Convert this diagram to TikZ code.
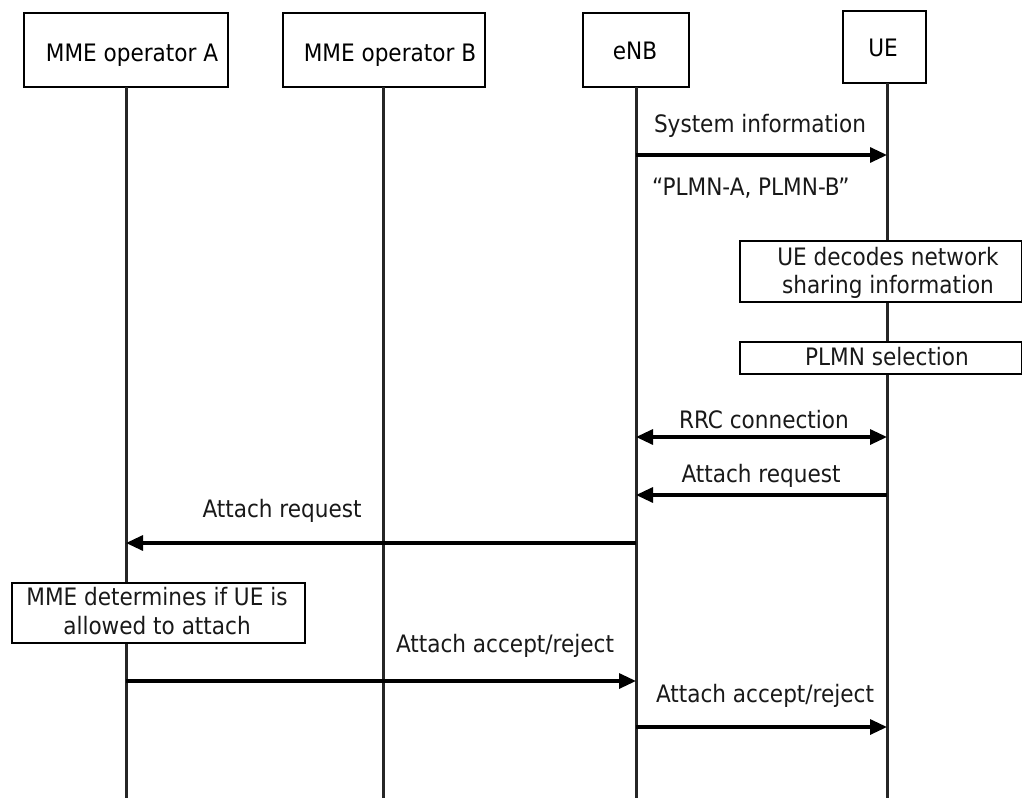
\documentclass[tikz,border=0pt]{standalone}
\usepackage{fontspec}
\setmainfont{DejaVu Sans Condensed}
\usetikzlibrary{arrows.meta}
\begin{document}
\begin{tikzpicture}[x=1pt,y=-1pt,
  font=\fontsize{24}{28}\selectfont,
  head/.style={draw, line width=2.8pt, fill=white, inner sep=0pt},
  note/.style={draw, line width=2.4pt, fill=white, inner sep=0pt, align=center},
  life/.style={line width=3pt, black!85},
  msg/.style={line width=3.2pt, -{Triangle[length=17pt,width=15pt]}},
  dmsg/.style={line width=3.2pt, {Triangle[length=17pt,width=15pt]}-{Triangle[length=17pt,width=15pt]}},
  lbl/.style={anchor=base, inner sep=0pt, text=black!90}]
\useasboundingbox[fill=white] (0,0) rectangle (1022,798);

% lifeline ends
\coordinate (aEnd) at (126,798);
\coordinate (bEnd) at (383,798);
\coordinate (eEnd) at (636,798);
\coordinate (uEnd) at (887,798);

% header boxes
\node[head, minimum width=204pt, minimum height=74pt] (mmeA) at (126,50) {};
\node[head, minimum width=202pt, minimum height=74pt] (mmeB) at (384,50) {};
\node[head, minimum width=106pt, minimum height=74pt] (enb) at (636,50) {};
\node[head, minimum width=83pt, minimum height=72pt] (ue) at (884.5,47) {};
\node[lbl, text=black] (tA) at (132,61) {MME operator A};
\node[lbl, text=black] (tB) at (390,61) {MME operator B};
\node[lbl, text=black] (tE) at (635,59) {eNB};
\node[lbl, text=black] (tU) at (883,56) {UE};

% lifelines
\draw[life] (126,87) -- (aEnd);
\draw[life] (383,87) -- (bEnd);
\draw[life] (636,87) -- (eEnd);
\draw[life] (887,83) -- (uEnd);

% System information
\coordinate (e1) at (636,155); \coordinate (u1) at (887,155);
\draw[msg] (e1) -- (u1);
\node[lbl] (t1) at (760,132) {System information};
\node[lbl, anchor=base west] (t1b) at (652,195) {“PLMN-A, PLMN-B”};

% UE boxes
\node[note, minimum width=282pt, minimum height=61pt, anchor=north west] (dec) at (739,240) {};
\node[lbl] (dec1) at (888,265) {UE decodes network};
\node[lbl] (dec2) at (888,293) {sharing information};
\node[note, minimum width=282pt, minimum height=32pt, anchor=north west] (sel) at (739,341) {};
\node[lbl] (sel1) at (887,365) {PLMN selection};

% RRC connection
\coordinate (e2) at (636,437); \coordinate (u2) at (887,437);
\draw[dmsg] (e2) -- (u2);
\node[lbl] (t2) at (764,428) {RRC connection};

% Attach request UE -> eNB
\coordinate (u3) at (887,495); \coordinate (e3) at (636,495);
\draw[msg] (u3) -- (e3);
\node[lbl] (t3) at (761,482) {Attach request};

% Attach request eNB -> MME A
\coordinate (e4) at (636,543); \coordinate (a4) at (126,543);
\draw[msg] (e4) -- (a4);
\node[lbl] (t4) at (282,517) {Attach request};

% MME determines
\node[note, minimum width=293pt, minimum height=60pt, anchor=north west] (det) at (11,582) {};
\node[lbl] (det1) at (157,605) {MME determines if UE is};
\node[lbl] (det2) at (157,634) {allowed to attach};

% Attach accept/reject MME A -> eNB
\coordinate (a5) at (126,681); \coordinate (e5) at (636,681);
\draw[msg] (a5) -- (e5);
\node[lbl] (t5) at (505,652) {Attach accept/reject};

% Attach accept/reject eNB -> UE
\coordinate (e6) at (636,727); \coordinate (u6) at (887,727);
\draw[msg] (e6) -- (u6);
\node[lbl] (t6) at (765,702) {Attach accept/reject};
\end{tikzpicture}
\end{document}
